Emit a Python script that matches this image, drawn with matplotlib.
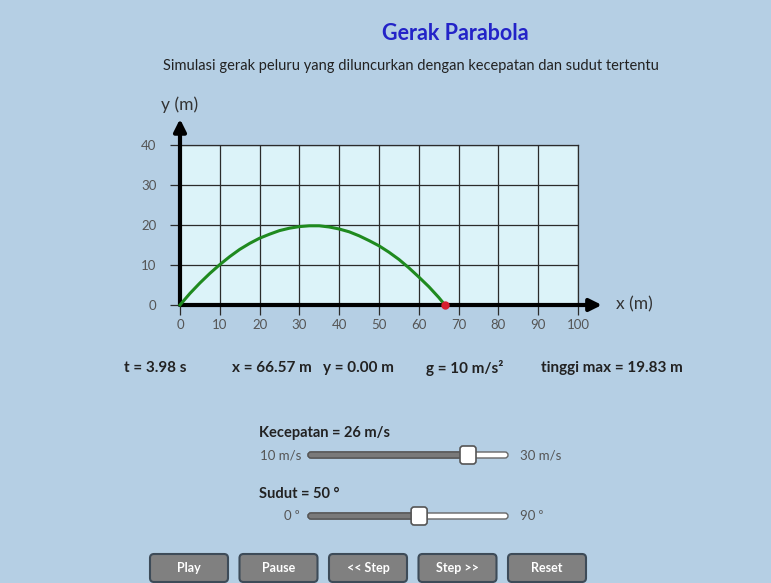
import matplotlib
matplotlib.use("Agg")
import matplotlib.pyplot as plt
import matplotlib.patches as patches

plt.rcParams['font.family'] = ['Lato', 'DejaVu Sans']

# Lintasan peluru
pos_x = [0, 2.5, 5, 7.5, 10, 12.5, 15, 17.5, 20, 22.5, 25, 27.5, 30, 32.5, 35,
         37.5, 40, 42.5, 45, 47.5, 50, 52.5, 55, 57.5, 60, 62.5, 65, 66.57]
pos_y = [0, 2.9, 5.5, 7.9, 10.1, 12.1, 13.9, 15.4, 16.7, 17.7, 18.6, 19.2, 19.6, 19.8, 19.8,
         19.5, 19.0, 18.3, 17.3, 16.1, 14.8, 13.2, 11.4, 9.3, 7.0, 4.6, 1.9, 0]

x_ticks = [0, 10, 20, 30, 40, 50, 60, 70, 80, 90, 100]
y_ticks = [0, 10, 20, 30, 40]

info_labels = ["t = 3.98 s", "x = 66.57 m", "y = 0.00 m", "g = 10 m/s²", "tinggi max = 19.83 m"]
info_pos = [155, 272, 358, 465, 612]

kecepatan = 26
kecepatan_range = (10, 30)
sudut = 50
sudut_range = (0, 90)

tombol = ["Play", "Pause", "<< Step", "Step >>", "Reset"]

BG = '#b5cfe4'
W, H = 771, 583

fig = plt.figure(figsize=(W / 100, H / 100), dpi=100, facecolor=BG)

# Overlay dalam koordinat piksel
ov = fig.add_axes([0, 0, 1, 1])
ov.set_xlim(0, W)
ov.set_ylim(H, 0)
ov.axis('off')
ov.set_facecolor('none')

# Grafik utama
left, right, top, bottom = 180, 578, 145, 305
ax = fig.add_axes([left / W, 1 - bottom / H, (right - left) / W, (bottom - top) / H])
ax.set_facecolor('#dcf3f9')
ax.set_xlim(0, 100)
ax.set_ylim(0, 40)
ax.set_xticks(x_ticks)
ax.set_yticks(y_ticks)
ax.grid(True, color='#2b2b2b', linewidth=0.9)
ax.set_axisbelow(True)
ax.tick_params(colors='#2b2b2b', labelcolor='#555555', labelsize=9.5, length=7, width=0.9)
ax.tick_params(axis='y', pad=10)
ax.tick_params(axis='x', pad=3)
for s in ['left', 'bottom']:
    ax.spines[s].set_visible(False)
for s in ['top', 'right']:
    ax.spines[s].set_color('#2b2b2b')
    ax.spines[s].set_linewidth(0.9)

# Sumbu dengan panah
ax.annotate('', xy=(106, 0), xytext=(0, 0), annotation_clip=False,
            arrowprops=dict(arrowstyle='-|>', color='black', lw=3, mutation_scale=18, shrinkA=0, shrinkB=0))
ax.annotate('', xy=(0, 46.5), xytext=(0, 0), annotation_clip=False,
            arrowprops=dict(arrowstyle='-|>', color='black', lw=3, mutation_scale=18, shrinkA=0, shrinkB=0))

ax.plot(pos_x, pos_y, color='#1f8a1f', lw=2.2, clip_on=False, zorder=3)
ax.plot(pos_x[-1], pos_y[-1], 'o', color='#d62030', ms=5, clip_on=False, zorder=4)

ov.text(180, 105, 'y (m)', fontsize=12.5, color='#333333', ha='center', va='center')
ov.text(634, 304, 'x (m)', fontsize=12.5, color='#333333', ha='center', va='center')

# Judul
ov.text(455, 33, 'Gerak Parabola', fontsize=15.5, fontweight='bold', color='#2323c8', ha='center', va='center')
ov.text(411, 66, 'Simulasi gerak peluru yang diluncurkan dengan kecepatan dan sudut tertentu',
        fontsize=10.5, color='#222222', ha='center', va='center')

for lbl, xp in zip(info_labels, info_pos):
    ov.text(xp, 368, lbl, fontsize=11, fontweight='bold', color='#222222', ha='center', va='center')


def slider(y, val, rng, lbl_left, lbl_right, title, lx):
    x0, w = 308, 200
    hx = x0 + (val - rng[0]) / (rng[1] - rng[0]) * w
    ov.text(259, y - 22, title, fontsize=10.5, fontweight='bold', color='#222222', ha='left', va='center')
    ov.add_patch(patches.FancyBboxPatch((x0, y - 3), w, 6, boxstyle='round,pad=0,rounding_size=3',
                                        fc='white', ec='#666666', lw=1))
    ov.add_patch(patches.FancyBboxPatch((x0, y - 3), hx - x0, 6, boxstyle='round,pad=0,rounding_size=3',
                                        fc='#7a7a7a', ec='#555555', lw=1))
    ov.add_patch(patches.FancyBboxPatch((hx - 8, y - 9), 16, 18, boxstyle='round,pad=0,rounding_size=3',
                                        fc='white', ec='#555555', lw=1.2, zorder=3))
    ov.text(lx, y, lbl_left, fontsize=9.5, color='#555555', ha='right', va='center')
    ov.text(520, y, lbl_right, fontsize=9.5, color='#555555', ha='left', va='center')


slider(455, kecepatan, kecepatan_range, '10 m/s', '30 m/s', 'Kecepatan = %d m/s' % kecepatan, 301)
slider(516, sudut, sudut_range, '0 ⁰', '90 ⁰', 'Sudut = %d °' % sudut, 299)

# Tombol
bx = 150
for name in tombol:
    ov.add_patch(patches.FancyBboxPatch((bx, 554), 78, 28, boxstyle='round,pad=0,rounding_size=4',
                                        fc='#808080', ec='#3d4b58', lw=1.5))
    ov.text(bx + 39, 568, name, fontsize=9, fontweight='bold', color='white', ha='center', va='center')
    bx += 89.5

fig.savefig('out.png', dpi=100, facecolor=BG)
